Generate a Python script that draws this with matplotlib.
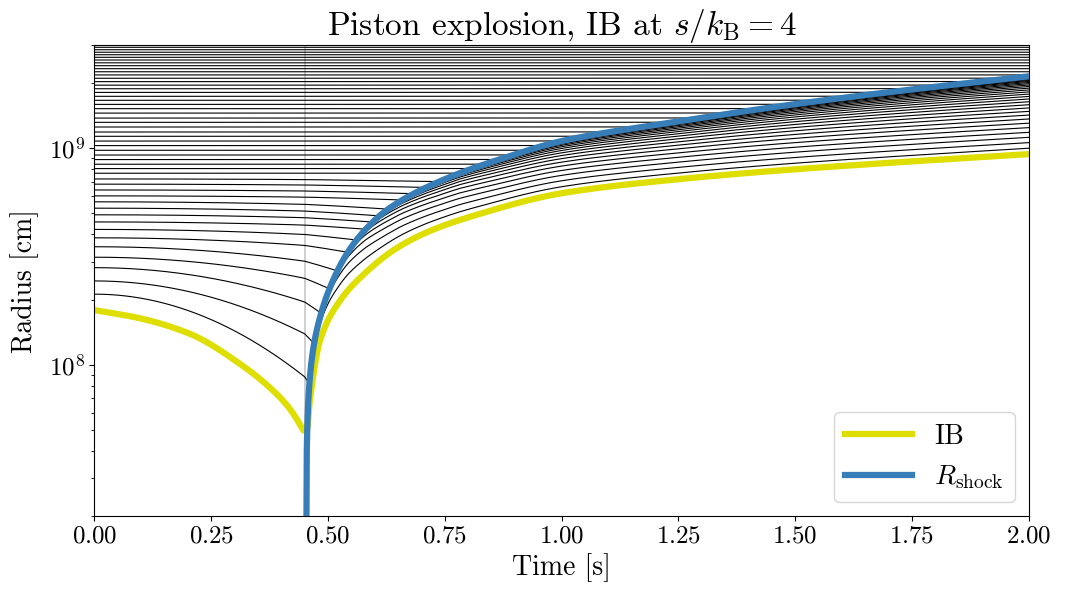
import numpy as np
import matplotlib.pyplot as plt

plt.rcParams['font.family'] = 'serif'
plt.rcParams['font.serif'] = ['cmr10']
plt.rcParams['mathtext.fontset'] = 'cm'
plt.rcParams['axes.formatter.use_mathtext'] = True
plt.rcParams['axes.unicode_minus'] = False

# inner boundary (IB) before the shock: time [s], radius [1e8 cm]
ib_pre_t = [0.0, 0.0974, 0.2044, 0.3114, 0.3827, 0.4184, 0.4434, 0.447]
ib_pre_r = [1.79, 1.64, 1.39, 1.01, 0.759, 0.625, 0.514, 0.497]
# inner boundary (IB) after the shock
ib_post_t = [0.447, 0.4545, 0.461, 0.4826, 0.525, 0.575, 0.647, 0.718, 0.81,
             1.0, 1.25, 1.5, 1.75, 2.0]
ib_post_r = [0.497, 0.50, 0.68, 1.29, 1.97, 2.6, 3.46, 4.15, 4.87,
             6.2, 7.2, 8.0, 8.7, 9.4]

# shock radius: time [s], radius [1e8 cm]
shock_t = [0.4535, 0.4545, 0.456, 0.4576, 0.4676, 0.4826, 0.504, 0.540, 0.583,
           0.632, 0.75, 0.875, 1.0, 1.25, 1.5, 1.75, 2.0]
shock_r = [0.15, 0.40, 0.55, 0.68, 1.16, 1.65, 2.27, 3.25, 4.28,
           5.3, 7.2, 9.0, 10.8, 13.3, 16.0, 18.7, 21.5]

# mass shells: radius at t=0 [1e8 cm]
shell_r0 = [2.12, 2.44, 2.81, 3.14, 3.51, 3.86, 4.22, 4.57, 4.93, 5.29,
            5.66, 6.03, 6.42, 6.83, 7.22, 7.67, 8.06, 8.44, 8.87, 9.31,
            9.79, 10.29, 10.80, 11.36, 11.89, 12.54, 13.18, 13.79, 14.54, 15.24,
            15.95, 16.66, 17.38, 18.12, 18.84, 19.57, 20.32, 21.06, 21.82, 22.57,
            23.32, 24.07, 24.82, 25.57, 26.32, 27.05, 27.78, 28.53, 29.27, 30.0]
# radius of the inner shells at t_switch [1e8 cm]
shell_r_switch = [0.88, 1.39, 1.95, 2.51, 3.01, 3.56, 4.00, 4.42, 4.78, 5.13,
                  5.51, 5.95, 6.35, 6.77, 7.17]
t_switch = 0.45


def pchip(x, y, xn):
    x, y = np.asarray(x, float), np.asarray(y, float)
    h = np.diff(x)
    d = np.diff(y) / h
    s = np.zeros_like(y)
    s[0], s[-1] = d[0], d[-1]
    for k in range(1, len(x) - 1):
        if d[k - 1] * d[k] > 0:
            w1, w2 = 2 * h[k] + h[k - 1], h[k] + 2 * h[k - 1]
            s[k] = (w1 + w2) / (w1 / d[k - 1] + w2 / d[k])
    k = np.clip(np.searchsorted(x, xn) - 1, 0, len(x) - 2)
    u = (xn - x[k]) / h[k]
    return (y[k] * (2 * u**3 - 3 * u**2 + 1) + h[k] * s[k] * (u**3 - 2 * u**2 + u)
            + y[k + 1] * (-2 * u**3 + 3 * u**2) + h[k] * s[k + 1] * (u**3 - u**2))


t = np.linspace(0, 2, 4001)
lib = np.where(t <= ib_pre_t[-1],
               pchip(ib_pre_t, np.log10(ib_pre_r), t),
               pchip(ib_post_t, np.log10(ib_post_r), t))
lsh = np.where(t >= shock_t[0], pchip(shock_t, np.log10(shock_r), t), -np.inf)

r_sw = list(shell_r_switch) + shell_r0[len(shell_r_switch):]
pre_paths, cross_idx, r_match = [], [], []
for i in range(len(shell_r0)):
    l0 = np.log10(shell_r0[i])
    d = np.log10(r_sw[i]) - l0
    s = (t / t_switch) ** 2
    pre = l0 + d * np.where(t <= t_switch, s, 1 + 2 * (s - 1))
    hit = np.nonzero(lsh >= pre)[0]
    ic = hit[0] if len(hit) else None
    pre_paths.append(pre)
    cross_idx.append(ic)
    r_match.append(pre[ic] if ic is not None else pre[-1])

m = np.arange(1, len(shell_r0) + 1)
m_sh = np.interp(lsh, r_match, m)

fig = plt.figure(figsize=(10.65, 5.96), dpi=100)
ax = fig.add_axes([0.0887, 0.134, 0.8773, 0.7905])

ax.axvline(t_switch, color='0.8', lw=1.3, zorder=0)

for i, pre in enumerate(pre_paths):
    path = pre.copy()
    ic = cross_idx[i]
    if ic is not None:
        x = np.clip(m[i] / m_sh[ic:], 0, 1)
        q = 1 - (1 - x) ** 3
        path[ic:] = lib[ic:] + q * (lsh[ic:] - lib[ic:])
    ax.plot(t, 10 ** path * 1e8, color='k', lw=0.8, zorder=1)

ax.plot(t, 10 ** lib * 1e8, color='#dede00', lw=4.5, label='IB', zorder=2)
ok = t >= shock_t[0]
ax.plot(t[ok], 10 ** lsh[ok] * 1e8, color='#377eb8', lw=4.5,
        label=r'$R_{\rm shock}$', zorder=3)

ax.set_yscale('log')
ax.set_xlim(0, 2)
ax.set_ylim(2e7, 3e9)
ax.set_xticks(np.arange(0, 2.01, 0.25))
ax.tick_params(labelsize=18)
ax.set_xlabel('Time [s]', fontsize=20)
ax.set_ylabel('Radius [cm]', fontsize=20, labelpad=7)
ax.set_title(r'Piston explosion, IB at $s/k_{\rm B} = 4$', fontsize=24)
ax.legend(loc='lower right', fontsize=20, handlelength=2.4)

fig.savefig('out.png', dpi=100)
